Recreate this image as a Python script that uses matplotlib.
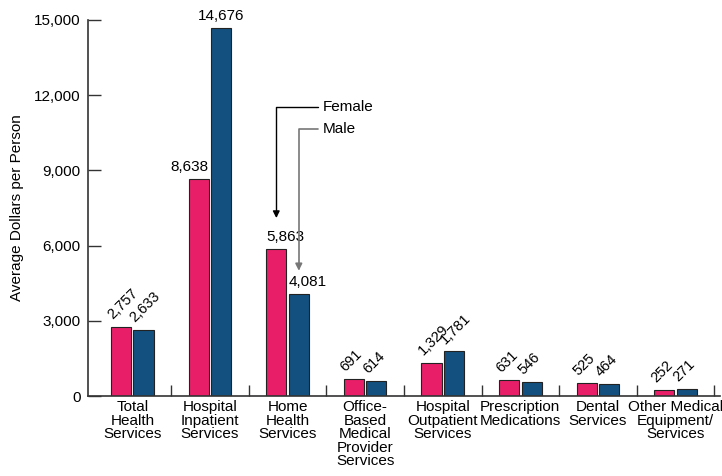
import matplotlib.pyplot as plt
import numpy as np

plt.rcParams['font.family'] = ['Liberation Sans', 'DejaVu Sans']
narrow = ['Liberation Sans Narrow', 'Liberation Sans', 'DejaVu Sans']

categories = ["Total\nHealth\nServices", "Hospital\nInpatient\nServices", "Home\nHealth\nServices",
              "Office-\nBased\nMedical\nProvider\nServices", "Hospital\nOutpatient\nServices",
              "Prescription\nMedications", "Dental\nServices", "Other Medical\nEquipment/\nServices"]
female = [2757, 8638, 5863, 691, 1329, 631, 525, 252]
male = [2633, 14676, 4081, 614, 1781, 546, 464, 271]
# label alignment: None -> rotated 45 degrees, otherwise flat with that alignment
align_female = [None, "right", "left", None, None, None, None, None]
align_male = [None, "center", "left", None, None, None, None, None]

pink = "#E91E69"
blue = "#13507F"

fig = plt.figure(figsize=(7.22, 4.76), dpi=100)
ax = fig.add_axes([0.122, 0.168, 0.875, 0.79])

x = np.arange(len(categories))
w = 0.26
off = 0.145
ax.bar(x - off, female, w, color=pink, edgecolor="#222222", linewidth=0.8)
ax.bar(x + off, male, w, color=blue, edgecolor="#222222", linewidth=0.8)

def label(xs, vals, aligns):
    for xi, v, a in zip(xs, vals, aligns):
        txt = f"{v:,}"
        if a is None:
            ax.text(xi - 0.08, v + 200, txt, ha="left", va="bottom", fontsize=10.5,
                    rotation=45, rotation_mode="anchor")
        else:
            xt = {"left": xi - w / 2, "right": xi + w / 2, "center": xi}[a]
            ax.text(xt, v + 200, txt, ha=a, va="bottom", fontsize=11)

label(x - off, female, align_female)
label(x + off, male, align_male)

ax.set_xlim(-0.57, len(categories) - 0.43)
ax.set_ylim(0, 15000)
ax.set_yticks(np.arange(0, 15001, 3000))
ax.set_yticklabels([f"{t:,}" for t in range(0, 15001, 3000)], fontsize=11)
ax.set_ylabel("Average Dollars per Person", fontsize=11, labelpad=7)

ax.set_xticks(x)
ax.set_xticklabels(categories, fontsize=11, linespacing=0.95, family=narrow)
ax.tick_params(axis="x", length=0, pad=3)
ax.set_xticks(x + 0.5, minor=True)
ax.tick_params(axis="x", which="minor", direction="in", length=8, width=1, color="#333333")
ax.tick_params(axis="y", direction="in", length=9, width=1, color="#333333", pad=5.5)

for s in ["top", "right"]:
    ax.spines[s].set_visible(False)
for s in ["left", "bottom"]:
    ax.spines[s].set_color("#333333")
    ax.spines[s].set_linewidth(1.2)

ax.annotate("Female", xy=(2 - off, 7100), xytext=(2.45, 11530), fontsize=11, family=narrow,
            va="center", ha="left",
            arrowprops=dict(arrowstyle="-|>", connectionstyle="angle,angleA=180,angleB=90,rad=0",
                            color="black", lw=1, shrinkA=1, shrinkB=0, mutation_scale=10))
ax.annotate("Male", xy=(2 + off, 5000), xytext=(2.45, 10650), fontsize=11, family=narrow,
            va="center", ha="left",
            arrowprops=dict(arrowstyle="-|>", connectionstyle="angle,angleA=180,angleB=90,rad=0",
                            color="#777777", lw=1.2, shrinkA=1, shrinkB=0, mutation_scale=10))

fig.savefig("out.png", dpi=100)
